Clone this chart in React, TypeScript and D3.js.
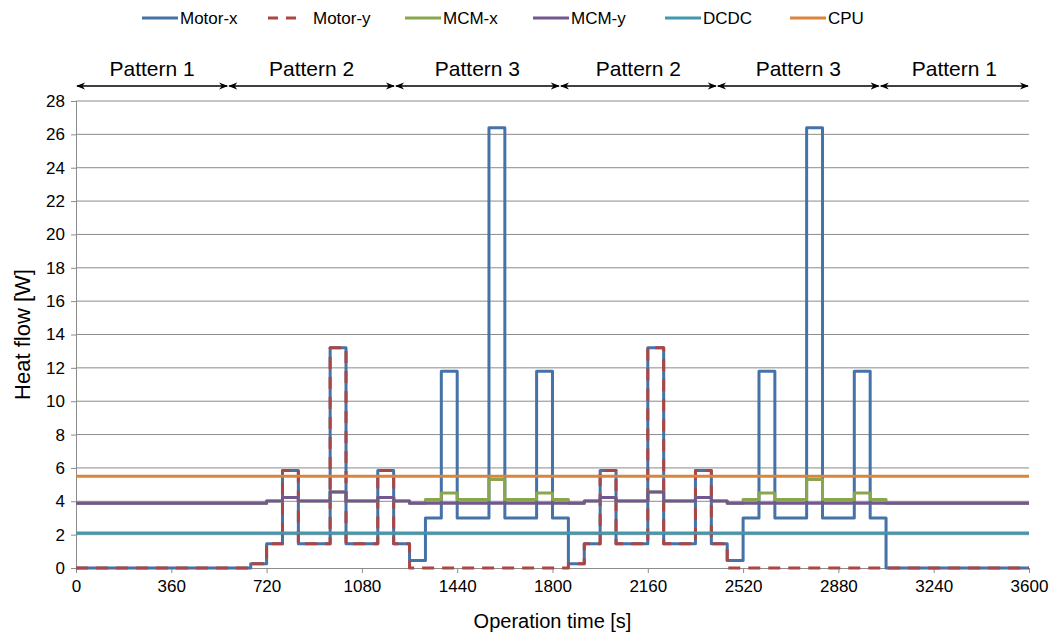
import React, { useEffect, useRef } from "react";
import * as d3 from "d3";

// step start times [s]; the last segment runs to 3600
const stepTimes = [0, 660, 720, 780, 840, 960, 1020, 1140, 1200, 1260, 1320, 1380, 1440, 1560, 1620, 1740, 1800,
  1860, 1920, 1980, 2040, 2160, 2220, 2340, 2400, 2460, 2520, 2580, 2640, 2760, 2820, 2940, 3000, 3060];
const endTime = 3600;

const motorX = [0, 0.25, 1.45, 5.85, 1.45, 13.2, 1.45, 5.85, 1.45, 0.45, 3, 11.8, 3, 26.4, 3, 11.8, 3,
  0.25, 1.45, 5.85, 1.45, 13.2, 1.45, 5.85, 1.45, 0.45, 3, 11.8, 3, 26.4, 3, 11.8, 3, 0];
const motorY = [0, 0.25, 1.45, 5.85, 1.45, 13.2, 1.45, 5.85, 1.45, 0, 0, 0, 0, 0, 0, 0, 0,
  0.25, 1.45, 5.85, 1.45, 13.2, 1.45, 5.85, 1.45, 0, 0, 0, 0, 0, 0, 0, 0, 0];
const mcmX = [3.88, 3.88, 4.02, 4.22, 4.02, 4.55, 4.02, 4.22, 4.02, 3.88, 4.1, 4.5, 4.1, 5.3, 4.1, 4.5, 4.1,
  3.88, 4.02, 4.22, 4.02, 4.55, 4.02, 4.22, 4.02, 3.88, 4.1, 4.5, 4.1, 5.3, 4.1, 4.5, 4.1, 3.88];
const mcmY = [3.88, 3.88, 4.02, 4.22, 4.02, 4.55, 4.02, 4.22, 4.02, 3.88, 3.88, 3.88, 3.88, 3.88, 3.88, 3.88, 3.88,
  3.88, 4.02, 4.22, 4.02, 4.55, 4.02, 4.22, 4.02, 3.88, 3.88, 3.88, 3.88, 3.88, 3.88, 3.88, 3.88, 3.88];
const dcdc = stepTimes.map(() => 2.1);
const cpu = stepTimes.map(() => 5.5);

const seriesNames = ["Motor-x", "Motor-y", "MCM-x", "MCM-y", "DCDC", "CPU"];
const seriesValues = [motorX, motorY, mcmX, mcmY, dcdc, cpu];
const seriesColors = ["#4572A7", "#AA4643", "#89A54E", "#71588F", "#4198AF", "#DB843D"];
const seriesDashed = [false, true, false, false, false, false];

const xTicks = [0, 360, 720, 1080, 1440, 1800, 2160, 2520, 2880, 3240, 3600];
const yTicks = d3.range(0, 29, 2);

const patternNames = ["Pattern 1", "Pattern 2", "Pattern 3", "Pattern 2", "Pattern 3", "Pattern 1"];
const patternBounds = [0, 575, 1205, 1828, 2421, 3036, 3600];

const legendX = [142, 268, 405, 533, 665, 790];

const W = 1054;
const H = 635;
const FONT = "'Liberation Sans', Arial, sans-serif";

export default function App() {
  const svgRef = useRef<SVGSVGElement | null>(null);

  useEffect(() => {
    const svg = d3.select(svgRef.current);
    svg.selectAll("*").remove();

    const x = d3.scaleLinear().domain([0, 3600]).range([76, 1029]);
    const y = d3.scaleLinear().domain([0, 28]).range([568, 101]);

    // arrow markers
    const defs = svg.append("defs");
    ["start", "end"].forEach((k) => {
      defs
        .append("marker")
        .attr("id", "arr-" + k)
        .attr("viewBox", "0 0 10 10")
        .attr("refX", k === "end" ? 9 : 1)
        .attr("refY", 5)
        .attr("markerWidth", 9)
        .attr("markerHeight", 9)
        .attr("markerUnits", "userSpaceOnUse")
        .attr("orient", "auto")
        .append("path")
        .attr("d", k === "end" ? "M0,1 L10,5 L0,9 L3,5 Z" : "M10,1 L0,5 L10,9 L7,5 Z")
        .attr("fill", "#000");
    });

    // gridlines
    svg
      .append("g")
      .selectAll("line")
      .data(yTicks.filter((d) => d > 0))
      .enter()
      .append("line")
      .attr("x1", x(0))
      .attr("x2", x(3600))
      .attr("y1", (d) => y(d))
      .attr("y2", (d) => y(d))
      .attr("stroke", "#8c8c8c")
      .attr("stroke-width", 1);

    // axes
    const yAxis = svg
      .append("g")
      .attr("transform", `translate(${x(0)},0)`)
      .call(d3.axisLeft(y).tickValues(yTicks).tickSize(5).tickPadding(6));
    const xAxis = svg
      .append("g")
      .attr("transform", `translate(0,${y(0)})`)
      .call(d3.axisBottom(x).tickValues(xTicks).tickFormat(d3.format("d")).tickSize(5).tickPadding(7));
    [yAxis, xAxis].forEach((g) => {
      g.selectAll(".domain").attr("stroke", "#8c8c8c").attr("stroke-width", 1);
      g.selectAll(".tick line").attr("stroke", "#8c8c8c");
      g.selectAll(".tick text").attr("fill", "#000").style("font-size", "17px").style("font-family", FONT);
    });
    xAxis.select(".domain").attr("d", `M${x(0)},0.5H${x(3600)}`);
    yAxis.select(".domain").attr("d", `M0.5,${y(0)}V${y(28)}`);

    // series
    const line = d3
      .line<[number, number]>()
      .x((d) => x(d[0]))
      .y((d) => y(d[1]))
      .curve(d3.curveStepAfter);

    seriesValues.forEach((vals, i) => {
      const pts: [number, number][] = stepTimes.map((t, j) => [t, vals[j]]);
      pts.push([endTime, vals[vals.length - 1]]);
      svg
        .append("path")
        .attr("d", line(pts))
        .attr("fill", "none")
        .attr("stroke", seriesColors[i])
        .attr("stroke-width", 3)
        .attr("stroke-linejoin", "round")
        .attr("stroke-dasharray", seriesDashed[i] ? "12,8" : null);
    });

    // pattern annotations
    const pat = svg.append("g");
    patternNames.forEach((name, i) => {
      const a = x(patternBounds[i]);
      const b = x(patternBounds[i + 1]);
      pat
        .append("line")
        .attr("x1", a + 1)
        .attr("x2", b - 1)
        .attr("y1", 86)
        .attr("y2", 86)
        .attr("stroke", "#000")
        .attr("stroke-width", 1.5)
        .attr("marker-start", "url(#arr-start)")
        .attr("marker-end", "url(#arr-end)");
      pat
        .append("text")
        .attr("x", (a + b) / 2)
        .attr("y", 76)
        .attr("text-anchor", "middle")
        .style("font-family", FONT)
        .style("font-size", "21px")
        .text(name);
    });

    // legend
    const leg = svg.append("g");
    seriesNames.forEach((name, i) => {
      const lx = legendX[i];
      leg
        .append("line")
        .attr("x1", lx)
        .attr("x2", lx + 36)
        .attr("y1", 18)
        .attr("y2", 18)
        .attr("stroke", seriesColors[i])
        .attr("stroke-width", 3)
        .attr("stroke-dasharray", seriesDashed[i] ? "10,8" : null);
      leg
        .append("text")
        .attr("x", lx + (seriesDashed[i] ? 45 : 38))
        .attr("y", 24)
        .style("font-family", FONT)
        .style("font-size", "17px")
        .text(name);
    });

    // axis titles
    svg
      .append("text")
      .attr("transform", `translate(30,${(y(0) + y(28)) / 2}) rotate(-90)`)
      .attr("text-anchor", "middle")
      .style("font-family", FONT)
      .style("font-size", "22px")
      .text("Heat flow [W]");
    svg
      .append("text")
      .attr("x", (x(0) + x(3600)) / 2)
      .attr("y", 628)
      .attr("text-anchor", "middle")
      .style("font-family", FONT)
      .style("font-size", "20px")
      .text("Operation time [s]");
  }, []);

  return (
    <div style={{ position: "absolute", left: 0, top: 0 }}>
      <svg ref={svgRef} width={W} height={H} style={{ display: "block", background: "#fff" }} />
    </div>
  );
}
